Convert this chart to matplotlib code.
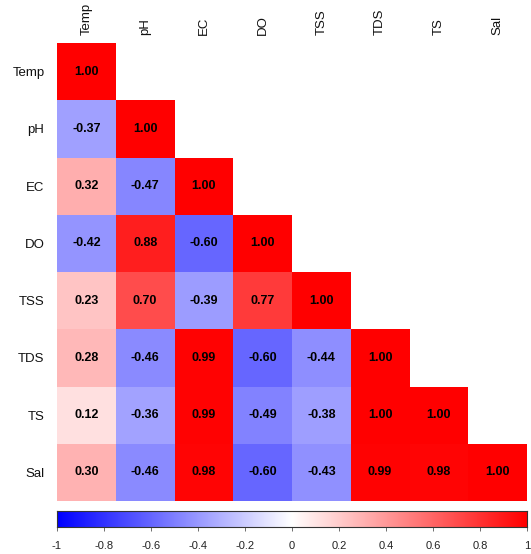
import numpy as np
import matplotlib
matplotlib.use("Agg")
import matplotlib.pyplot as plt
from matplotlib.colors import LinearSegmentedColormap

plt.rcParams['font.family'] = ['Liberation Sans', 'DejaVu Sans']

labels = ["Temp", "pH", "EC", "DO", "TSS", "TDS", "TS", "Sal"]
rows = [
    [1.00],
    [-0.37, 1.00],
    [0.32, -0.47, 1.00],
    [-0.42, 0.88, -0.60, 1.00],
    [0.23, 0.70, -0.39, 0.77, 1.00],
    [0.28, -0.46, 0.99, -0.60, -0.44, 1.00],
    [0.12, -0.36, 0.99, -0.49, -0.38, 1.00, 1.00],
    [0.30, -0.46, 0.98, -0.60, -0.43, 0.99, 0.98, 1.00],
]
cbar_ticks = [-1, -0.8, -0.6, -0.4, -0.2, 0, 0.2, 0.4, 0.6, 0.8, 1]

n = len(labels)
mat = np.full((n, n), np.nan)
for i, r in enumerate(rows):
    mat[i, :len(r)] = r
masked = np.ma.masked_invalid(mat)

cmap = LinearSegmentedColormap.from_list("bwr2", ["#0000FF", "#FFFFFF", "#FF0000"])

W, H = 531, 554
fig = plt.figure(figsize=(W / 100, H / 100), dpi=100)
ax = fig.add_axes([57 / W, 1 - 501 / H, 470 / W, 458 / H])
ax.pcolormesh(np.arange(n + 1), np.arange(n + 1), masked, cmap=cmap,
              vmin=-1, vmax=1)
ax.set_xlim(0, n)
ax.set_ylim(n, 0)
for sp in ax.spines.values():
    sp.set_visible(False)
ax.tick_params(length=0)
ax.xaxis.tick_top()
ax.set_xticks(np.arange(n) + 0.5)
ax.set_xticklabels(labels, rotation=90, fontsize=9.5, va="bottom", color="#111111")
ax.set_yticks(np.arange(n) + 0.5)
ax.set_yticklabels(labels, fontsize=9.5, color="#111111")
ax.tick_params(axis="x", pad=6)
ax.tick_params(axis="y", pad=9)

for i, r in enumerate(rows):
    for j, v in enumerate(r):
        ax.text(j + 0.5, i + 0.5, "%.2f" % v, ha="center", va="center",
                fontsize=9, fontweight="bold", color="black")

cax = fig.add_axes([57 / W, 1 - 527 / H, 470 / W, 16 / H])
grad = np.linspace(-1, 1, 256).reshape(1, -1)
cax.imshow(grad, aspect="auto", cmap=cmap, vmin=-1, vmax=1,
           extent=[-1, 1, 0, 1])
cax.set_yticks([])
cax.set_xticks(cbar_ticks)
cax.set_xticklabels(["%g" % t for t in cbar_ticks], fontsize=8, color="#222222")
cax.tick_params(axis="x", length=3, width=0.6, color="#555555", pad=7)
for sp in cax.spines.values():
    sp.set_linewidth(0.8)
    sp.set_color("#333333")

fig.savefig("out.png", dpi=100)
